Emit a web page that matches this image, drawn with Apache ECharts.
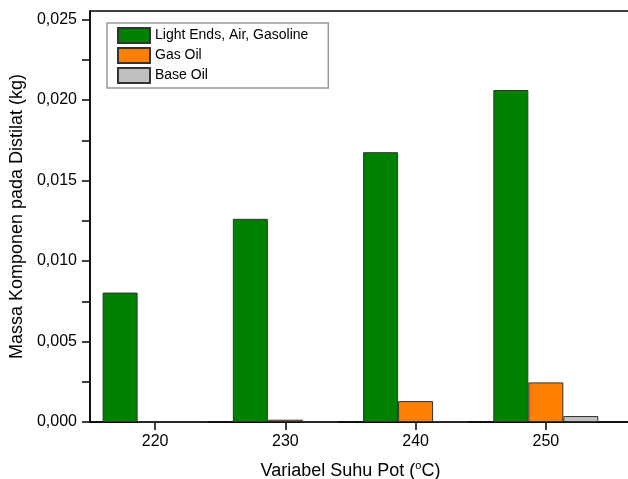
<!DOCTYPE html>
<html>
<head>
<meta charset="utf-8">
<script src="https://cdn.jsdelivr.net/npm/echarts@6/dist/echarts.min.js"></script>
<style>html,body{margin:0;padding:0;background:#fff;}#c{width:628px;height:479px;}</style>
</head>
<body>
<div id="c"></div>
<script>
const categories = [220, 230, 240, 250];
const seriesNames = ['Light Ends, Air, Gasoline', 'Gas Oil', 'Base Oil'];
const lightEnds = [0.00804, 0.01262, 0.01676, 0.02062];
const gasOil = [0, 0.00014, 0.0013, 0.00246];
const baseOil = [0, 0, 0.00002, 0.00037];
const yTicks = [0, 0.005, 0.010, 0.015, 0.020, 0.025];
const yMinorTicks = [0.0025, 0.0075, 0.0125, 0.0175, 0.0225];

const FONT = 'Liberation Sans';
const colors = ['#008000', '#ff8000', '#c0c0c0'];
const values = [lightEnds, gasOil, baseOil];

const chart = echarts.init(document.getElementById('c'), null, {renderer: 'canvas'});
chart.setOption({
  animation: false,
  backgroundColor: '#fff',
  textStyle: {fontFamily: FONT},
  grid: {left: 90, top: 11, right: -9, bottom: 57, show: true, borderColor: '#000', borderWidth: 1.5,
    containLabel: false, outerBoundsMode: 'none'},
  legend: {
    orient: 'vertical', left: 107, top: 23,
    data: seriesNames,
    itemWidth: 32, itemHeight: 15, itemGap: 3,
    padding: [4, 20, 4, 10],
    borderColor: '#999', borderWidth: 1.5, borderRadius: 0,
    icon: 'rect',
    textStyle: {fontFamily: FONT, fontSize: 14, color: '#000'}
  },
  xAxis: {
    type: 'value', min: 215, max: 257,
    splitLine: {show: false},
    axisLine: {show: true, lineStyle: {color: '#000', width: 1.5}},
    axisTick: {show: true, inside: false, length: 8, lineStyle: {color: '#000', width: 1.5}, customValues: categories},
    axisLabel: {fontFamily: FONT, fontSize: 16, color: '#000', margin: 12, customValues: categories},
    name: 'Variabel Suhu Pot ({sup|o}C)',
    nameLocation: 'middle', nameGap: 38,
    nameTextStyle: {fontFamily: FONT, fontSize: 18, color: '#000', padding: [0, 26, 0, 0],
      rich: {sup: {fontFamily: FONT, fontSize: 11, verticalAlign: 'top', padding: [0, 0, 12, 0], color: '#000'}}}
  },
  yAxis: {
    type: 'value', min: 0, max: 0.02553,
    splitLine: {show: false},
    axisLine: {show: true, lineStyle: {color: '#000', width: 1.5}},
    axisTick: {show: true, inside: false, length: 8, lineStyle: {color: '#000', width: 1.5}, customValues: yTicks.concat(yMinorTicks)},
    axisLabel: {fontFamily: FONT, fontSize: 16, color: '#000', margin: 13, customValues: yTicks,
      formatter: v => v.toFixed(3).replace('.', ',')},
    name: 'Massa Komponen pada Distilat (kg)',
    nameLocation: 'middle', nameGap: 61, nameRotate: 90,
    nameTextStyle: {fontFamily: FONT, fontSize: 18, color: '#000'}
  },
  series: seriesNames.map((n, i) => ({
    name: n, type: 'bar',
    barWidth: 35, barGap: '0%',
    itemStyle: {color: colors[i], borderColor: '#333', borderWidth: 1},
    data: categories.map((c, j) => [c, values[i][j]])
  }))
});
</script>
</body>
</html>
